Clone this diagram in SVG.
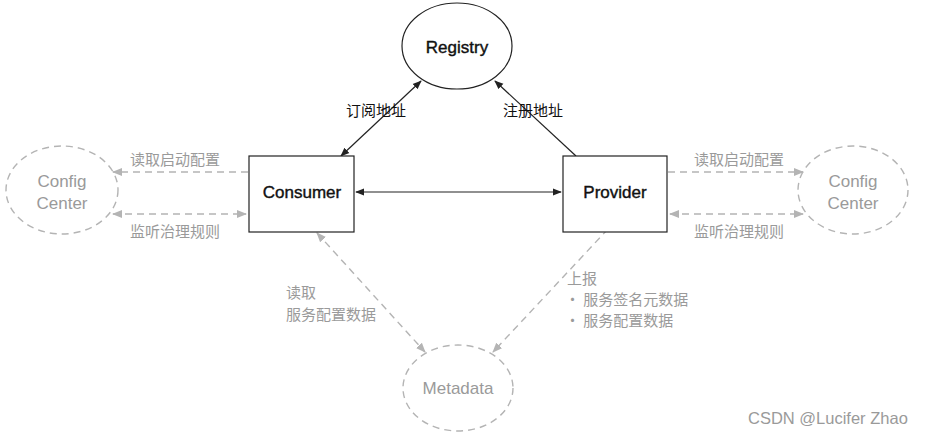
<svg xmlns="http://www.w3.org/2000/svg" width="925" height="434" viewBox="0 0 925 434">
<style>
.bg{fill:#fff}
.solid{fill:#fff;stroke:#222;stroke-width:1.2}
.ghost{fill:none;stroke:#b4b4b4;stroke-width:1.4;stroke-dasharray:7 5}
.line{stroke:#222;stroke-width:1.2;fill:none}
.dline{stroke:#b4b4b4;stroke-width:1.4;fill:none;stroke-dasharray:7 5}
.t{font-family:"Liberation Sans","Noto Sans CJK SC",sans-serif;font-size:17px;text-anchor:middle;dominant-baseline:central;fill:#111}
.b{stroke:#111;stroke-width:0.4}
.g{fill:#9a9a9a}
.cn{font-family:"Noto Sans CJK SC","Liberation Sans",sans-serif;font-size:15px;dominant-baseline:central;fill:#111}
.cng{fill:#9a9a9a}
.wm{font-family:"Liberation Sans","Noto Sans CJK SC",sans-serif;font-size:16.5px;fill:#9a9a9a;dominant-baseline:central}
</style>
<defs>
<marker id="ab" viewBox="0 0 10 10" refX="9" refY="5" markerWidth="9" markerHeight="9" markerUnits="userSpaceOnUse" orient="auto-start-reverse"><path d="M0,1 L10,5 L0,9 z" fill="#222"/></marker>
<marker id="ag" viewBox="0 0 10 10" refX="9" refY="5" markerWidth="10" markerHeight="10" markerUnits="userSpaceOnUse" orient="auto-start-reverse"><path d="M0,1 L10,5 L0,9 z" fill="#b4b4b4"/></marker>
</defs>
<rect class="bg" width="925" height="434"/>
<g id="connectors">
<line class="line" x1="341" y1="156" x2="421" y2="81" marker-start="url(#ab)" marker-end="url(#ab)"/>
<line class="line" x1="576" y1="156" x2="495" y2="81" marker-end="url(#ab)"/>
<line class="line" x1="356" y1="192" x2="561" y2="192" marker-start="url(#ab)" marker-end="url(#ab)"/>
<line class="dline" x1="248" y1="172" x2="113" y2="172" marker-end="url(#ag)"/>
<line class="dline" x1="113" y1="214" x2="246" y2="214" marker-start="url(#ag)" marker-end="url(#ag)"/>
<line class="dline" x1="668" y1="172" x2="803" y2="172" marker-end="url(#ag)"/>
<line class="dline" x1="670" y1="214" x2="803" y2="214" marker-start="url(#ag)" marker-end="url(#ag)"/>
<line class="dline" x1="317" y1="233" x2="425" y2="352" marker-start="url(#ag)" marker-end="url(#ag)"/>
<line class="dline" x1="608" y1="229" x2="493" y2="352" marker-end="url(#ag)"/>
<text class="cn" x="346" y="109">订阅地址</text>
<text class="cn" x="503" y="109">注册地址</text>
<text class="cn cng" x="130" y="158">读取启动配置</text>
<text class="cn cng" x="130" y="230">监听治理规则</text>
<text class="cn cng" x="694" y="158">读取启动配置</text>
<text class="cn cng" x="694" y="230">监听治理规则</text>
<text class="cn cng" x="286" y="291">读取</text>
<text class="cn cng" x="286" y="313">服务配置数据</text>
<text class="cn cng" x="567" y="277">上报</text>
<text class="cn cng" x="565" y="298">· 服务签名元数据</text>
<text class="cn cng" x="565" y="319">· 服务配置数据</text>
</g>
<g id="registry">
<ellipse class="solid" cx="457" cy="46" rx="55" ry="43"/>
<text class="t b" x="457" y="47">Registry</text>
</g>
<g id="consumer">
<rect class="solid" x="249" y="156" width="105" height="76"/>
<text class="t b" x="302" y="192">Consumer</text>
</g>
<g id="provider">
<rect class="solid" x="563" y="156" width="104" height="76"/>
<text class="t b" x="615" y="192">Provider</text>
</g>
<g id="config-left">
<ellipse class="ghost" cx="62" cy="190" rx="56" ry="44"/>
<text class="t g" x="62" y="181">Config</text>
<text class="t g" x="62" y="203">Center</text>
</g>
<g id="config-right">
<ellipse class="ghost" cx="853" cy="190" rx="55" ry="44"/>
<text class="t g" x="853" y="181">Config</text>
<text class="t g" x="853" y="203">Center</text>
</g>
<g id="metadata">
<ellipse class="ghost" cx="458" cy="388" rx="55" ry="43"/>
<text class="t g" x="458" y="388">Metadata</text>
</g>
<text class="wm" x="748" y="418">CSDN @Lucifer Zhao</text>
</svg>
